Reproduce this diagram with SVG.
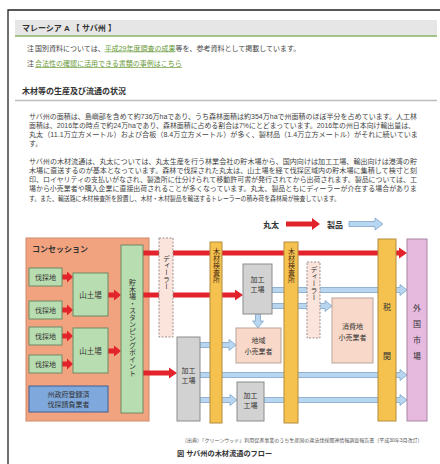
<svg xmlns="http://www.w3.org/2000/svg" width="440" height="464" viewBox="0 0 440 464">
<style>
text{font-family:"Liberation Sans","Noto Sans CJK JP",sans-serif;fill:#333}
.b{font-weight:bold}
.p{font-size:7px;fill:#444}
.n{font-size:7px;fill:#444}
.lk{fill:#6b9b3a;text-decoration:underline}
.c{text-anchor:middle}
.v{writing-mode:vertical-rl;text-anchor:middle}
.t7{font-size:7px}
.t75{font-size:7.5px}
.t8{font-size:8px}
.green{fill:#b8ddb0;stroke:#6f8a66;stroke-width:1}
.gray{fill:#d2d2d2;stroke:#8c8c8c;stroke-width:1}
.yel{fill:#f5c24f;stroke:#b38b3c;stroke-width:1}
.ret{fill:#f8d9c9;stroke:#b9a399;stroke-width:1}
.deal{fill:#fbe4db;stroke:#9a8f8c;stroke-width:1;stroke-dasharray:2 1.5}
.red{fill:#e3232b}
.blue{fill:#b8d6ef;stroke:#7fa5c9;stroke-width:0.8}
</style>
<rect x="0" y="0" width="440" height="464" fill="#fff"/>
<g id="page">
<path d="M8 464V10H440" fill="none" stroke="#222" stroke-width="1.3"/>
<rect x="15" y="20" width="422" height="15.5" fill="#e6e6e6"/>
<line x1="15" y1="36" x2="437" y2="36" stroke="#86b061" stroke-width="1.5"/>
<text x="22" y="31" class="b" font-size="8">マレーシア A 【 サバ州 】</text>
<text x="27" y="50.5" class="n">注 <tspan x="35">国別資料については、</tspan><tspan class="lk">平成29年度調査の成果</tspan>等を、参考資料として掲載しています。</text>
<text x="27" y="66" class="n">注 <tspan x="35" class="lk">合法性の確認に活用できる書類の事例はこちら</tspan></text>
<text x="22" y="94" class="b" font-size="8">木材等の生産及び流通の状況</text>
<line x1="15" y1="100.5" x2="437" y2="100.5" stroke="#bdbdbd" stroke-width="1.5"/>
<text x="29" y="118.5" class="p" textLength="388" lengthAdjust="spacingAndGlyphs">サバ州の面積は、島嶼部を含めて約736万haであり、うち森林面積は約354万haで州面積のほぼ半分を占めています。人工林</text>
<text x="29" y="127.5" class="p" textLength="386" lengthAdjust="spacingAndGlyphs">面積は、2016年の時点で約24万haであり、森林面積に占める割合は7%にとどまっています。2016年の州日本向け輸出量は、</text>
<text x="29" y="136.5" class="p" textLength="389" lengthAdjust="spacingAndGlyphs">丸太（11.1万立方メートル）および合板（8.4万立方メートル）が多く、製材品（1.4万立方メートル）がそれに続いていま</text>
<text x="29" y="145.5" class="p">す。</text>
<text x="29" y="163.5" class="p" textLength="388" lengthAdjust="spacingAndGlyphs">サバ州の木材流通は、丸太については、丸太生産を行う林業会社の貯木場から、国内向けは加工工場、輸出向けは港湾の貯</text>
<text x="29" y="172.8" class="p" textLength="388" lengthAdjust="spacingAndGlyphs">木場に直送するのが基本となっています。森林で伐採された丸太は、山土場を経て伐採区域内の貯木場に集積して検寸と刻</text>
<text x="29" y="182.1" class="p" textLength="388" lengthAdjust="spacingAndGlyphs">印、ロイヤリティの支払いがなされ、製造所に仕分けられて移動許可書が発行されてから出荷されます。製品については、工</text>
<text x="29" y="191.4" class="p" textLength="388" lengthAdjust="spacingAndGlyphs">場から小売業者や購入企業に直接出荷されることが多くなっています。丸太、製品ともにディーラーが介在する場合がありま</text>
<text x="29" y="200.7" class="p" textLength="311" lengthAdjust="spacingAndGlyphs">す。また、輸送路に木材検査所を設置し、木材・木材製品を輸送するトレーラーの積み荷を森林局が検査しています。</text>
</g>
<g id="legend">
<text x="263" y="227.5" class="t8 b">丸太</text>
<polygon class="red" points="286,221.5 312,221.5 312,218 320,224 312,230 312,226.5 286,226.5"/>
<text x="327" y="227.5" class="t8 b">製品</text>
<polygon class="blue" points="349,221.5 375,221.5 375,218 383,224 375,230 375,226.5 349,226.5"/>
</g>
<g id="concession">
<rect x="26" y="238" width="123" height="183" fill="#f1a37f" stroke="#d08a6c" stroke-width="1"/>
<text x="32" y="252" class="t8 b">コンセッション</text>
</g>
<g id="connectors">
<polygon class="red" points="62,274.5 67,274.5 67,271.5 73,277 67,282.5 67,279.5 62,279.5"/>
<polygon class="red" points="62,307.5 67,307.5 67,304.5 73,310 67,315.5 67,312.5 62,312.5"/>
<polygon class="red" points="62,333.5 67,333.5 67,330.5 73,336 67,341.5 67,338.5 62,338.5"/>
<polygon class="red" points="62,361.5 67,361.5 67,358.5 73,364 67,369.5 67,366.5 62,366.5"/>
<polygon class="red" points="108,292.5 114,292.5 114,289.5 121,295 114,300.5 114,297.5 108,297.5"/>
<polygon class="red" points="108,348.5 114,348.5 114,345.5 121,351 114,356.5 114,353.5 108,353.5"/>
<polygon class="red" points="143,250.5 399,250.5 399,247.5 407,253 399,258.5 399,255.5 143,255.5"/>
<polygon class="red" points="143,292.5 235,292.5 235,289.5 243,295 235,300.5 235,297.5 143,297.5"/>
<polygon class="red" points="143,370.5 169,370.5 169,367.5 177,373 169,378.5 169,375.5 143,375.5"/>
<polygon class="blue" points="272,287.5 400,287.5 400,284.5 407,290 400,295.5 400,292.5 272,292.5"/>
<polygon class="blue" points="272,303.5 325,303.5 325,300.5 332,306 325,311.5 325,308.5 272,308.5"/>
<polygon class="blue" points="255.5,314 260.5,314 260.5,321 263.5,321 258,328 252.5,321 255.5,321"/>
<polygon class="blue" points="200,342.5 229,342.5 229,339.5 236,345 229,350.5 229,347.5 200,347.5"/>
<polygon class="blue" points="200,372.5 400,372.5 400,369.5 407,375 400,380.5 400,377.5 200,377.5"/>
<polygon class="blue" points="200,397.5 230,397.5 230,394.5 237,400 230,405.5 230,402.5 200,402.5"/>
<polygon class="blue" points="264,397.5 400,397.5 400,394.5 407,400 400,405.5 400,402.5 264,402.5"/>
</g>
<g id="forest1"><rect class="green" x="29" y="268" width="33" height="18"/><text x="45.5" y="279.5" class="t7 c">伐採地</text></g>
<g id="forest2"><rect class="green" x="29" y="301" width="33" height="18"/><text x="45.5" y="312.5" class="t7 c">伐採地</text></g>
<g id="forest3"><rect class="green" x="29" y="327" width="33" height="18"/><text x="45.5" y="338.5" class="t7 c">伐採地</text></g>
<g id="forest4"><rect class="green" x="29" y="355" width="33" height="18"/><text x="45.5" y="366.5" class="t7 c">伐採地</text></g>
<g id="landing1"><rect class="green" x="73" y="273" width="35" height="43"/><text x="90.5" y="297.5" class="t75 c">山土場</text></g>
<g id="landing2"><rect class="green" x="73" y="328" width="35" height="45"/><text x="90.5" y="353.5" class="t75 c">山土場</text></g>
<g id="contractor"><rect x="29" y="386" width="79" height="26" fill="#7fa8dc" stroke="#3e5f93" stroke-width="1"/><text x="68.5" y="396.5" class="t7 c">州政府登録済</text><text x="68.5" y="406.5" class="t7 c">伐採請負業者</text></g>
<g id="stockpile"><rect class="green" x="121" y="245" width="22" height="168"/><text x="132" y="328" class="t7 v">貯木場・スタンピングポイント</text></g>
<g id="dealer1"><rect class="deal" x="159" y="238" width="14" height="99"/><text x="166" y="272" class="t7 v">ディーラー</text></g>
<g id="inspection1"><rect class="yel" x="210" y="242" width="12" height="181"/><text x="216" y="265" class="t7 v" style="fill:#4a2a10">木材検査所</text></g>
<g id="factory1"><rect class="gray" x="243" y="264" width="29" height="50"/><text x="257.5" y="282" class="t7 c">加工</text><text x="257.5" y="292" class="t7 c">工場</text></g>
<g id="factory2"><rect class="gray" x="177" y="337" width="23" height="84"/><text x="188.5" y="372.5" class="t7 c">加工</text><text x="188.5" y="382.5" class="t7 c">工場</text></g>
<g id="factory3"><rect class="gray" x="237" y="382" width="27" height="39"/><text x="250.5" y="398" class="t7 c">加工</text><text x="250.5" y="408" class="t7 c">工場</text></g>
<g id="regional"><rect class="ret" x="236" y="328" width="45" height="35"/><text x="258.5" y="342.5" class="t7 c">地域</text><text x="258.5" y="354" class="t7 c">小売業者</text></g>
<g id="inspection2"><rect class="yel" x="284" y="242" width="14" height="181"/><text x="291" y="265" class="t7 v" style="fill:#4a2a10">木材検査所</text></g>
<g id="dealer2"><rect class="deal" x="307" y="262" width="13" height="76"/><text x="313.5" y="283" class="t7 v">ディーラー</text></g>
<g id="consumer"><rect class="ret" x="332" y="298" width="41" height="65"/><text x="352.5" y="328.5" class="t7 c">消費地</text><text x="352.5" y="339.5" class="t7 c">小売業者</text></g>
<g id="customs"><rect class="yel" x="378" y="239" width="18" height="182"/><text x="387" y="310" class="t8 c">税</text><text x="387" y="359" class="t8 c">関</text></g>
<g id="export"><rect x="407" y="239" width="20" height="182" fill="#e6b9df" stroke="#a886a4" stroke-width="1"/><text x="417" y="311" class="t8 c">外</text><text x="417" y="327" class="t8 c">国</text><text x="417" y="343" class="t8 c">市</text><text x="417" y="359" class="t8 c">場</text></g>
<g id="footer">
<text x="182" y="442" font-size="5" style="fill:#555">（出典）「クリーンウッド」利用促進事業のうち生産国の違法伐採関連情報調査報告書（平成30年3月改訂）</text>
<text x="177" y="456" class="b" font-size="7.2">図 サバ州の木材流通のフロー</text>
</g>
</svg>
